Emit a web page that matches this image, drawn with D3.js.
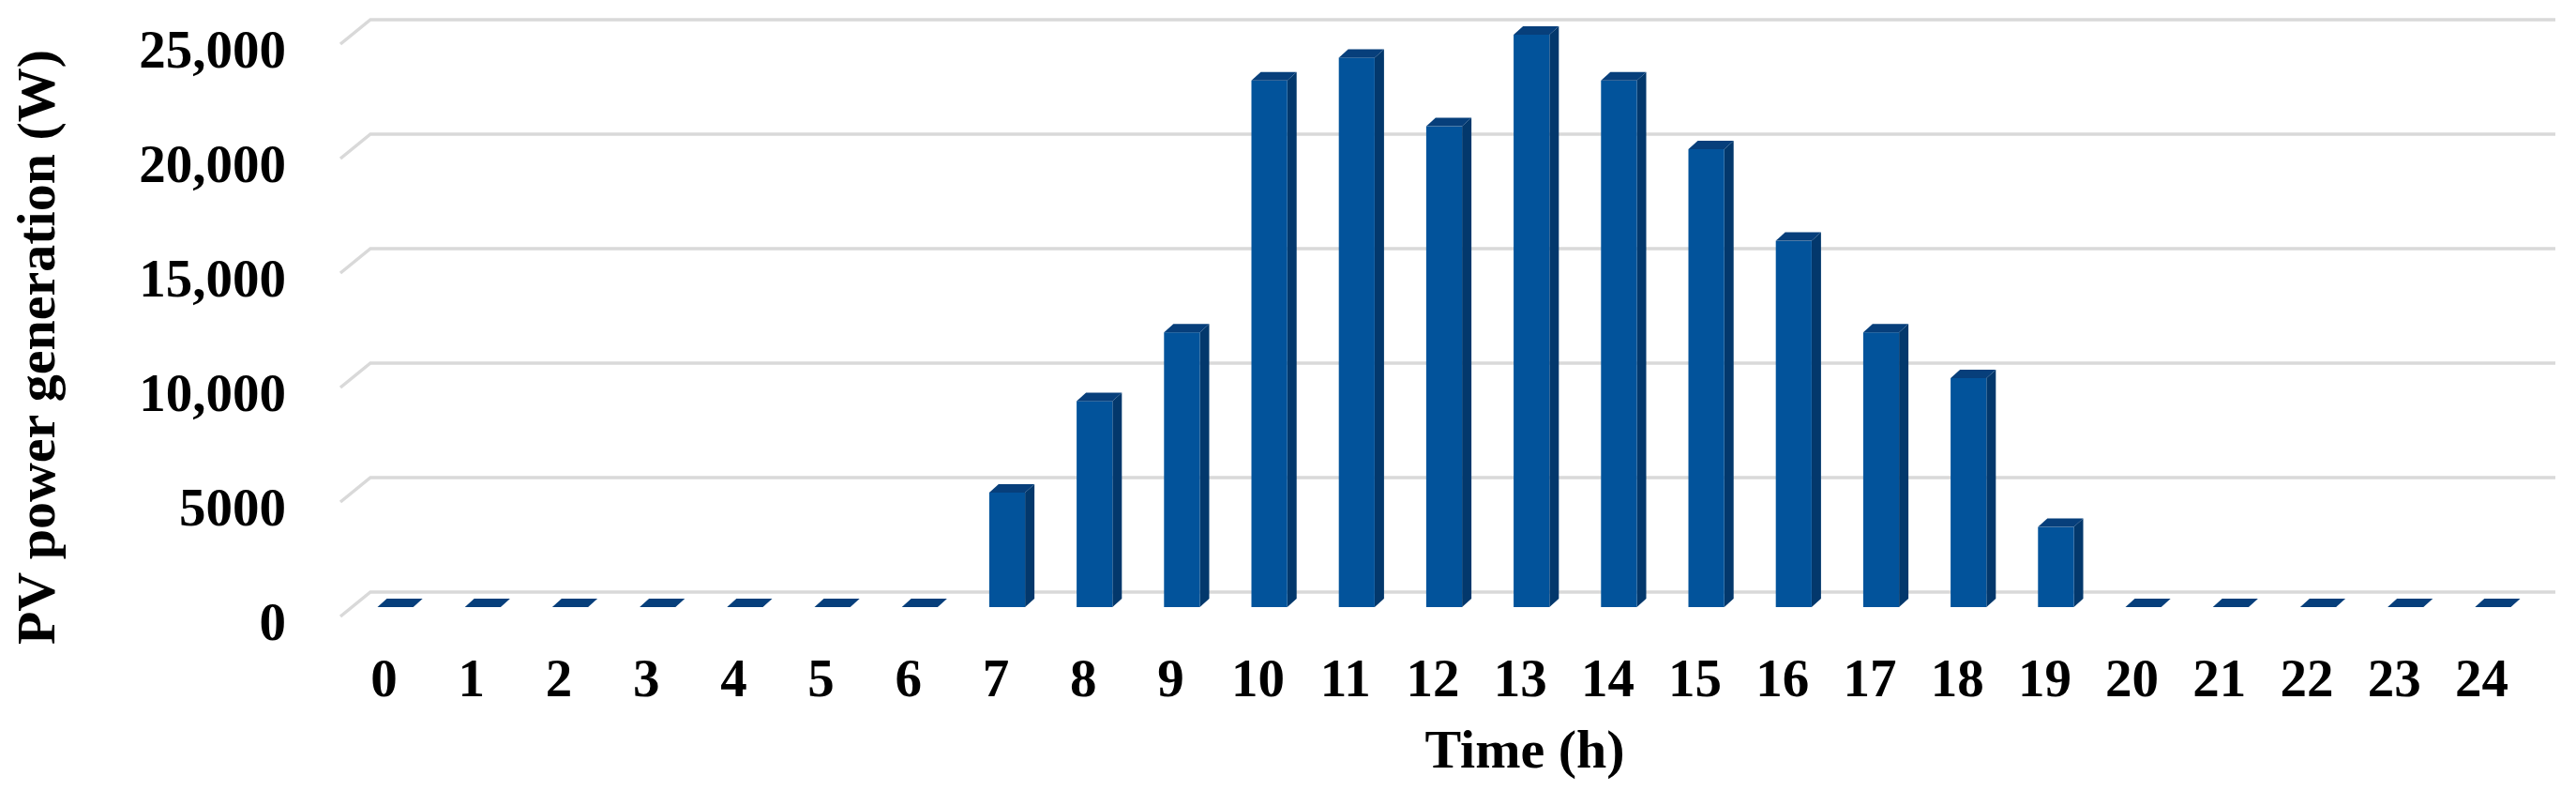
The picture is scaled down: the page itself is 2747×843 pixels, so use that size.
<!DOCTYPE html>
<html>
<head>
<meta charset="utf-8">
<script src="https://cdn.jsdelivr.net/npm/d3@7"></script>
<style>
  body { margin: 0; background: #fff; }
  text { font-family: "Times New Roman", "Liberation Serif", serif; font-weight: bold; fill: #000; }
</style>
</head>
<body>
<div id="chart"></div>
<script>
var width = 2747,
    height = 843;

// hourly PV output
var hours = ["0","1","2","3","4","5","6","7","8","9","10","11","12",
             "13","14","15","16","17","18","19","20","21","22","23","24"];
var power = [0, 0, 0, 0, 0, 0, 0, 5000, 9000, 12000, 23000, 24000, 21000,
             25000, 23000, 20000, 16000, 12000, 10000, 3500, 0, 0, 0, 0, 0];
var yTicks = [0, 5000, 10000, 15000, 20000, 25000];
var yTickLabels = ["0", "5000", "10,000", "15,000", "20,000", "25,000"];

// back wall of the 3d plot
var wallLeft = 395, wallRight = 2725;
var floorDx = 32, floorDy = 26;   // wall -> front of floor
var barDx = 10, barDy = 9;         // bar depth
var barShiftX = 20, barShiftY = 16; // wall -> bar front face

var y = d3.scaleLinear()
    .domain([0, 25000])
    .range([631, 21]);

var x = d3.scaleBand()
    .domain(hours)
    .range([wallLeft - barShiftX, wallRight - barShiftX])
    .paddingInner(0.59)
    .paddingOuter(0.295);

var svg = d3.select("#chart").append("svg")
    .attr("width", width)
    .attr("height", height);

// gridlines with the angled floor/wall edge
svg.append("g")
  .selectAll("path")
    .data(yTicks)
  .enter().append("path")
    .attr("d", function(d) {
      var yy = y(d);
      return "M" + (wallLeft - floorDx) + "," + (yy + floorDy) +
             "L" + wallLeft + "," + yy + "L" + wallRight + "," + yy;
    })
    .style("fill", "none")
    .style("stroke", "#d9d9d9")
    .style("stroke-width", 3.5);

// y tick labels
svg.append("g")
  .selectAll("text")
    .data(yTicks)
  .enter().append("text")
    .attr("x", 305)
    .attr("y", function(d) { return y(d) + 51; })
    .attr("text-anchor", "end")
    .style("font-size", "57px")
    .text(function(d, i) { return yTickLabels[i]; });

// bars: side, front, top
var bars = svg.append("g")
  .selectAll("g")
    .data(power)
  .enter().append("g");

function barLeft(i) { return x(hours[i]); }
function barTop(d) { return y(d) + barShiftY; }
var base = y(0) + barShiftY;
var bw = x.bandwidth();

bars.append("path")
    .attr("d", function(d, i) {
      var a = barLeft(i) + bw, t = barTop(d);
      return "M" + a + "," + base + "L" + a + "," + t +
             "L" + (a + barDx) + "," + (t - barDy) +
             "L" + (a + barDx) + "," + (base - barDy) + "Z";
    })
    .style("fill", "#03386c");

bars.append("rect")
    .attr("x", function(d, i) { return barLeft(i); })
    .attr("y", function(d) { return barTop(d); })
    .attr("width", bw)
    .attr("height", function(d) { return base - barTop(d); })
    .style("fill", "#02539b");

bars.append("path")
    .attr("d", function(d, i) {
      var a = barLeft(i), t = barTop(d);
      return "M" + a + "," + t + "L" + (a + bw) + "," + t +
             "L" + (a + bw + barDx) + "," + (t - barDy) +
             "L" + (a + barDx) + "," + (t - barDy) + "Z";
    })
    .style("fill", "#073f7b");

// x labels sit on the front of the floor
svg.append("g")
  .selectAll("text")
    .data(hours)
  .enter().append("text")
    .attr("x", function(d) { return x(d) + bw / 2 - 12; })
    .attr("y", 742)
    .attr("text-anchor", "middle")
    .style("font-size", "57px")
    .text(function(d) { return d; });

svg.append("text")
    .attr("x", 1626)
    .attr("y", 818)
    .attr("text-anchor", "middle")
    .style("font-size", "58px")
    .text("Time (h)");

svg.append("text")
    .attr("transform", "translate(58,370) rotate(-90)")
    .attr("text-anchor", "middle")
    .style("font-size", "58px")
    .text("PV power generation (W)");
</script>
</body>
</html>
